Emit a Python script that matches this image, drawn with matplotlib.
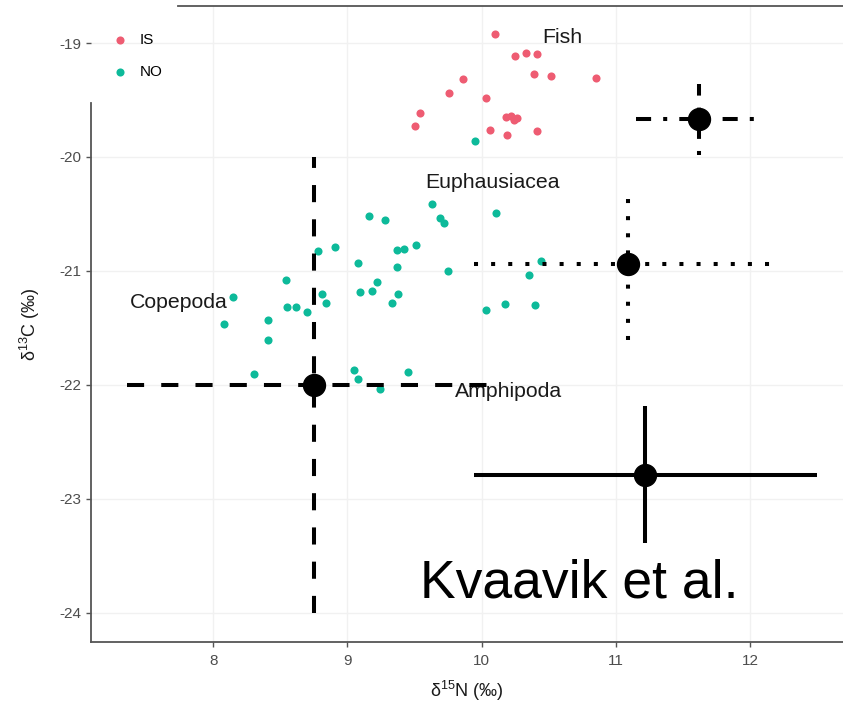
import numpy as np
import matplotlib
matplotlib.use('Agg')
import matplotlib.pyplot as plt

plt.rcParams['font.family'] = ['Liberation Sans', 'DejaVu Sans']
plt.rcParams['mathtext.fontset'] = 'custom'
plt.rcParams['mathtext.rm'] = 'Liberation Sans'
plt.rcParams['mathtext.it'] = 'Liberation Sans:italic'
plt.rcParams['mathtext.bf'] = 'Liberation Sans:bold'
plt.rcParams['axes.unicode_minus'] = False

# samples, group IS
is_n = [10.10, 10.25, 10.33, 10.41, 10.39, 10.52, 10.85, 9.86, 9.76, 10.03,
        9.54, 9.50, 10.18, 10.22, 10.26, 10.24, 10.06, 10.19, 10.41]
is_c = [-18.92, -19.11, -19.09, -19.10, -19.27, -19.29, -19.31, -19.32, -19.44, -19.48,
        -19.61, -19.73, -19.65, -19.64, -19.66, -19.68, -19.76, -19.81, -19.77]

# samples, group NO
no_n = [9.95, 9.63, 10.11, 9.69, 9.72, 9.16, 9.28, 8.91, 8.78, 9.37,
        9.42, 9.51, 9.08, 9.37, 9.75, 10.44, 10.35, 8.54, 9.22, 8.15,
        8.81, 8.84, 9.09, 9.18, 9.38, 9.33, 8.55, 8.62, 8.70, 8.08,
        8.41, 8.41, 10.17, 10.03, 10.40, 8.30, 9.05, 9.08, 9.45, 9.24]
no_c = [-19.86, -20.41, -20.49, -20.54, -20.58, -20.52, -20.55, -20.79, -20.83, -20.82,
        -20.81, -20.77, -20.93, -20.97, -21.00, -20.91, -21.04, -21.08, -21.10, -21.23,
        -21.20, -21.28, -21.19, -21.18, -21.20, -21.28, -21.32, -21.32, -21.36, -21.47,
        -21.43, -21.61, -21.29, -21.34, -21.30, -21.91, -21.87, -21.95, -21.89, -22.04]

# literature means with spread (Kvaavik et al.)
ref_n = [11.62, 11.09, 8.75, 11.22]
ref_c = [-19.67, -20.94, -22.00, -22.79]
ref_n_sd = [0.47, 1.15, 1.39, 1.28]
ref_c_sd = [0.31, 0.67, 2.00, 0.60]

taxa = ['Fish', 'Euphausiacea', 'Copepoda', 'Amphipoda']

W, H = 843, 704
fig = plt.figure(figsize=(W / 100, H / 100), dpi=100)
ax = fig.add_axes([91 / W, 1 - 641.7 / H, (843 - 91) / W, (641.7 - 6) / H])
ax.set_xlim(7.089, 12.692)
ax.set_ylim(-24.256, -18.675)

ax.set_axisbelow(True)
ax.grid(True, color='#f1f1f1', lw=1.0)

ax.scatter(is_n, is_c, s=34, color='#EE5C72', lw=0, zorder=2, label='IS')
ax.scatter(no_n, no_c, s=34, color='#0DBA9A', lw=0, zorder=2, label='NO')

# taxon labels
lab_pos = [(10.452, -18.997), (9.578, -20.276), (7.379, -21.329), (9.801, -22.105)]
for t, (px, py) in zip(taxa, lab_pos):
    ax.text(px, py, t, fontsize=15.3, color='#1a1a1a', ha='left', va='baseline', zorder=3)

# line type per cross: (horizontal, vertical)
styles = [((0, (3.75, 3, 1, 3)), (6.75, (3.75, 3, 1, 3))),
          ((0, (1, 3.25)), (0, (1, 3.25))),
          ((0, (4.25, 4.25)), (0, (4.25, 4.25))),
          ('-', '-')]
for i in range(len(ref_n)):
    eb = ax.errorbar(ref_n[i], ref_c[i], xerr=ref_n_sd[i], yerr=ref_c_sd[i],
                     fmt='o', color='black', ms=15.8, elinewidth=2.9, capsize=0, zorder=4)
    eb[2][0].set_linestyle(styles[i][0])
    eb[2][1].set_linestyle(styles[i][1])

ax.set_xticks([8, 9, 10, 11, 12])
ax.set_yticks([-19, -20, -21, -22, -23, -24])
ax.tick_params(length=3.6, width=1.0, color='#555555', labelcolor='#4d4d4d', labelsize=11)
ax.tick_params(axis='x', pad=5)
ax.tick_params(axis='y', pad=3.5)

for s in ['left', 'bottom', 'top']:
    ax.spines[s].set_color('#555555')
    ax.spines[s].set_linewidth(1.3)
ax.spines['right'].set_visible(False)
ax.spines['left'].set_bounds(-24.256, -19.527)
ax.spines['top'].set_bounds(7.737, 12.692)

ax.set_xlabel('δ$^{15}$N (‰)', fontsize=13, color='#1a1a1a', labelpad=8)
ax.set_ylabel('δ$^{13}$C (‰)', fontsize=13, color='#1a1a1a', labelpad=12)

ax.legend(loc='upper left', bbox_to_anchor=(112 / W, 1 - 33 / H), bbox_transform=fig.transFigure,
          frameon=False, fontsize=11, handlelength=1.0, handletextpad=0.8, labelspacing=1.2,
          borderpad=0, borderaxespad=0, scatterpoints=1)

fig.text(420 / W, 1 - 597 / H, 'Kvaavik et al.', fontsize=38.5, color='black', ha='left', va='baseline')

fig.savefig('out.png', dpi=100)
